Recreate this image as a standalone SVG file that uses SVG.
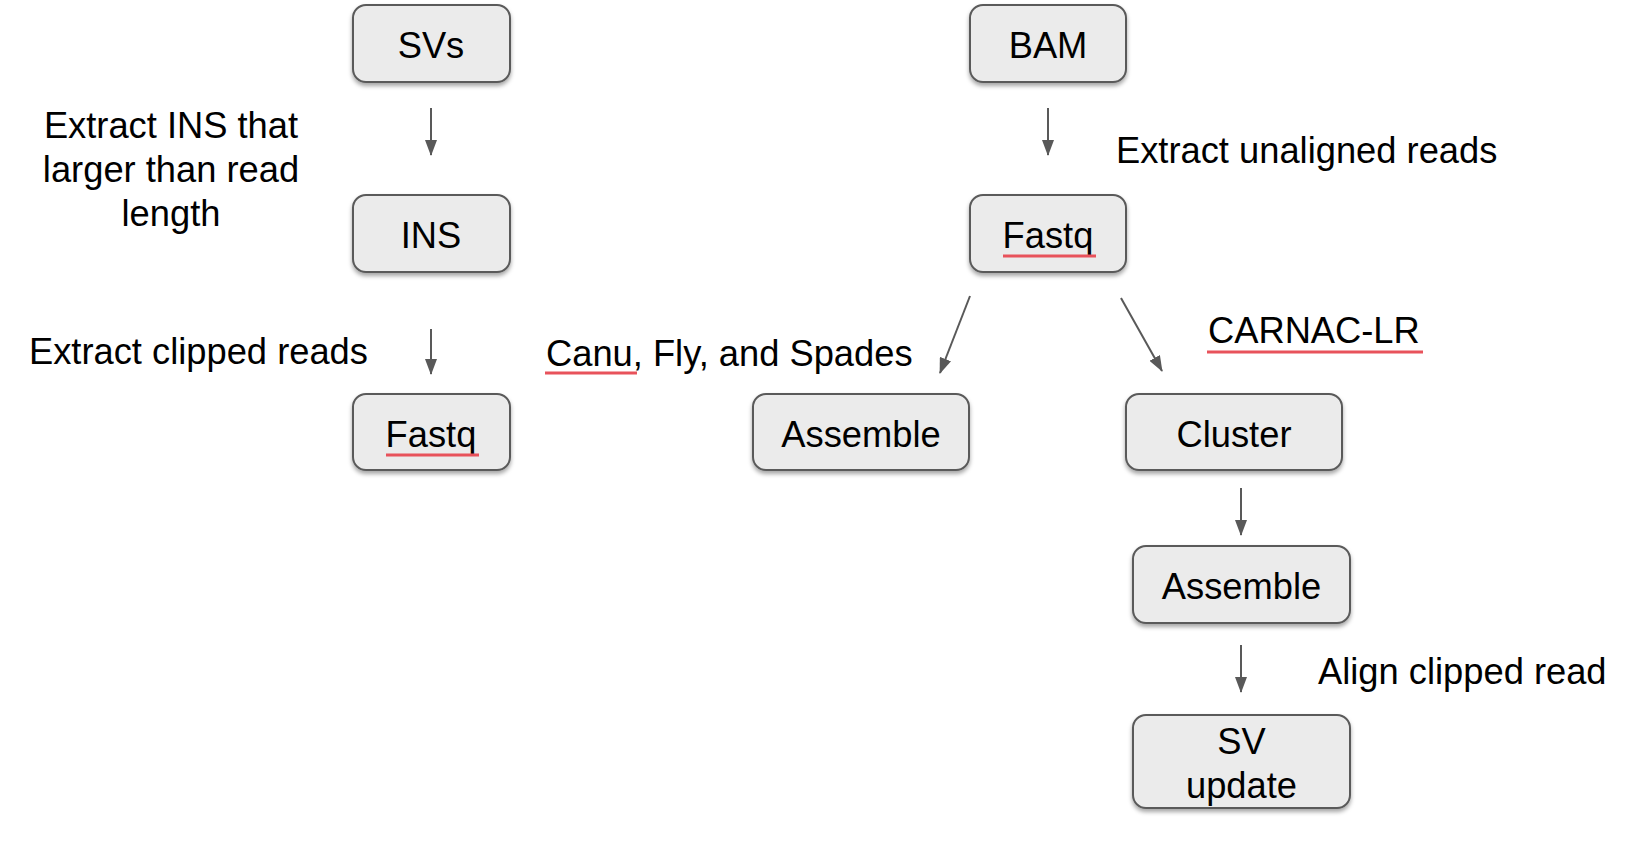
<svg xmlns="http://www.w3.org/2000/svg" width="1638" height="847" viewBox="0 0 1638 847">
<style>
.box{fill:#ebebeb;stroke:#5a5a5a;stroke-width:2;filter:url(#sh)}
.t{font-family:"Liberation Sans",Arial,sans-serif;font-size:36.3px;fill:#000}
.c{text-anchor:middle}
.e{stroke:#595959;stroke-width:2;fill:none;marker-end:url(#ah)}
.u{stroke:#e8525b;stroke-width:3}
</style>
<defs>
<filter id="sh" x="-10%" y="-10%" width="120%" height="140%">
<feDropShadow dx="0" dy="3" stdDeviation="2" flood-color="#000" flood-opacity="0.35"/>
</filter>
<marker id="ah" markerUnits="userSpaceOnUse" markerWidth="16" markerHeight="12" refX="15" refY="6" orient="auto">
<path d="M0,0 L16,6 L0,12 z" fill="#595959"/>
</marker>
</defs>
<rect width="1638" height="847" fill="#fff"/>
<g id="connectors">
<line class="e" x1="431" y1="108" x2="431" y2="155"/>
<line class="e" x1="431" y1="329" x2="431" y2="374"/>
<line class="e" x1="1048" y1="108" x2="1048" y2="155"/>
<line class="e" x1="970" y1="296" x2="940" y2="373"/>
<line class="e" x1="1121" y1="298" x2="1162" y2="371"/>
<line class="e" x1="1241" y1="488" x2="1241" y2="535"/>
<line class="e" x1="1241" y1="645" x2="1241" y2="692"/>
</g>
<g id="labels">
<text class="t c" x="171" y="138">Extract INS that</text>
<text class="t c" x="171" y="182">larger than read</text>
<text class="t c" x="171" y="226">length</text>
<text class="t" x="29" y="364">Extract clipped reads</text>
<text class="t" x="546" y="366">Canu, Fly, and Spades</text>
<line class="u" x1="545" y1="373" x2="637" y2="373"/>
<text class="t" x="1116" y="163">Extract unaligned reads</text>
<text class="t" x="1208" y="343">CARNAC-LR</text>
<line class="u" x1="1207" y1="352" x2="1423" y2="352"/>
<text class="t" x="1318" y="684">Align clipped read</text>
</g>
<g id="n_svs"><rect class="box" x="353" y="5" width="157" height="77" rx="13"/><text class="t c" x="431" y="58">SVs</text></g>
<g id="n_ins"><rect class="box" x="353" y="195" width="157" height="77" rx="13"/><text class="t c" x="431" y="248">INS</text></g>
<g id="n_fastq1"><rect class="box" x="353" y="394" width="157" height="76" rx="13"/><text class="t c" x="431" y="447">Fastq</text><line class="u" x1="386" y1="455" x2="479" y2="455"/></g>
<g id="n_bam"><rect class="box" x="970" y="5" width="156" height="77" rx="13"/><text class="t c" x="1048" y="58">BAM</text></g>
<g id="n_fastq2"><rect class="box" x="970" y="195" width="156" height="77" rx="13"/><text class="t c" x="1048" y="248">Fastq</text><line class="u" x1="1003" y1="256" x2="1096" y2="256"/></g>
<g id="n_assemble1"><rect class="box" x="753" y="394" width="216" height="76" rx="13"/><text class="t c" x="861" y="447">Assemble</text></g>
<g id="n_cluster"><rect class="box" x="1126" y="394" width="216" height="76" rx="13"/><text class="t c" x="1234" y="447">Cluster</text></g>
<g id="n_assemble2"><rect class="box" x="1133" y="546" width="217" height="77" rx="13"/><text class="t c" x="1241.5" y="599">Assemble</text></g>
<g id="n_svupdate"><rect class="box" x="1133" y="715" width="217" height="93" rx="13"/><text class="t c" x="1241.5" y="754">SV</text><text class="t c" x="1241.5" y="798">update</text></g>
</svg>
